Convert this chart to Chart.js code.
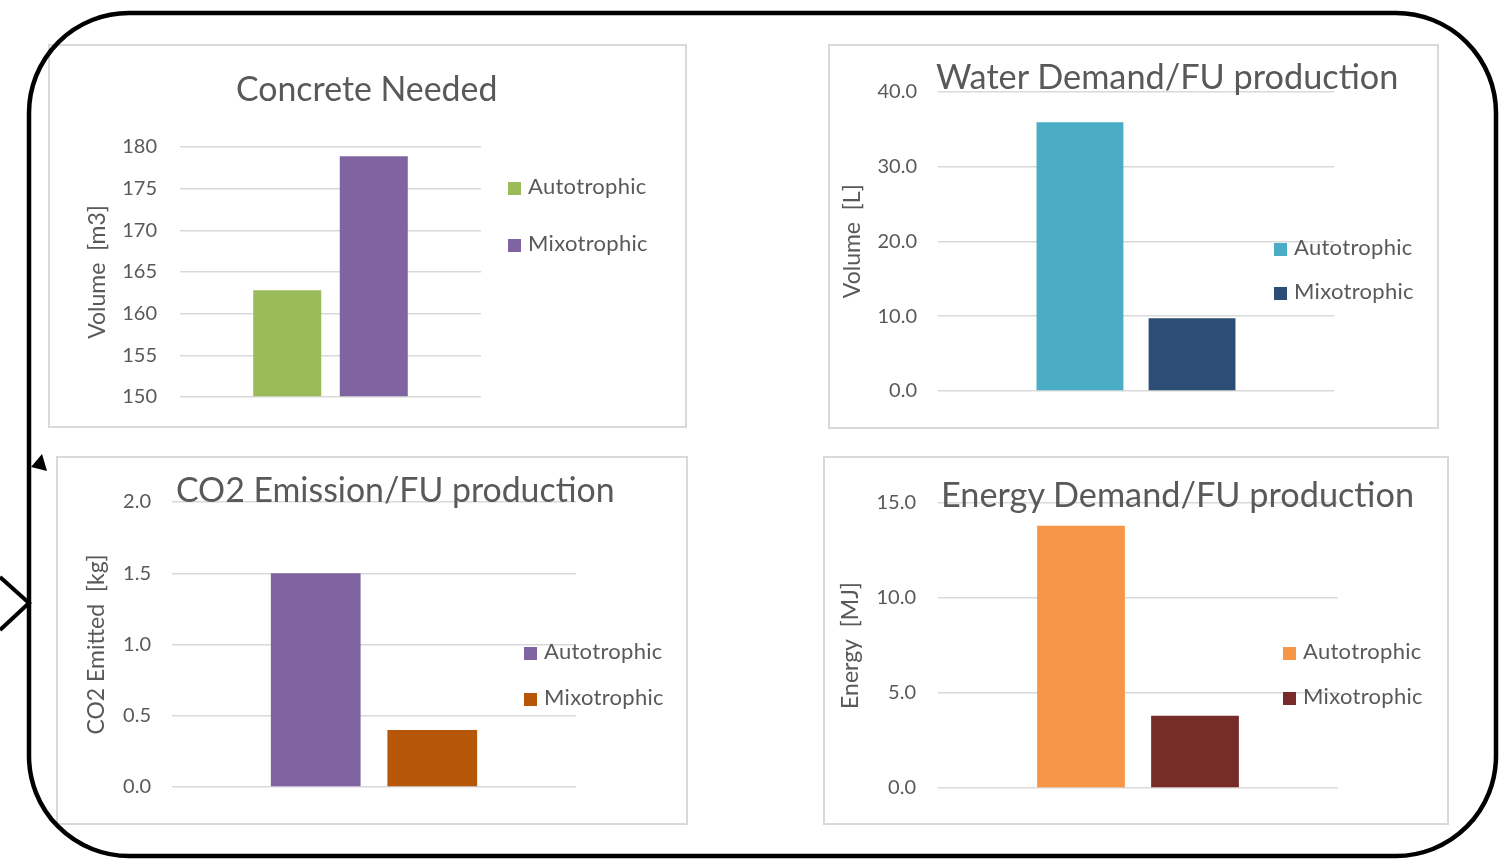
<!DOCTYPE html>
<html>
<head>
<meta charset="utf-8">
<script src="https://cdn.jsdelivr.net/npm/chart.js@4.4.0/dist/chart.umd.min.js"></script>
<style>
    body { margin: 0; width: 1500px; height: 866px; position: relative; overflow: hidden; background: #fff;
           font-family: Lato, 'Open Sans', sans-serif; }
    .panel { position: absolute; border: 2px solid #d9d9d9; box-sizing: border-box; background: #fff; }
    canvas { position: absolute; }
    .titulo { position: absolute; color: #595959; white-space: nowrap; line-height: 1; }
    .leyenda { position: absolute; color: #595959; font-size: 22px; letter-spacing: 0.3px; white-space: nowrap; line-height: 1; }
    .leyenda span { display: inline-block; width: 13px; height: 13px; margin-right: 7px; vertical-align: -1px; }
    svg { position: absolute; left: 0; top: 0; pointer-events: none; }
</style>
</head>
<body>
<svg width="1500" height="866">
    <rect x="29" y="13" width="1467" height="843" rx="100" ry="100" fill="none" stroke="#000" stroke-width="4.5"/>
    <polyline points="0,577 29,603 0,630" fill="none" stroke="#000" stroke-width="4"/>
    <polygon points="31,467 42,454 47,471" fill="#000"/>
</svg>

<script>
// Datos
const categorias = ['Autotrophic', 'Mixotrophic'];

const concretoValores = [162.8, 178.9];
const aguaValores = [35.9, 9.7];
const co2Valores = [1.5, 0.4];
const energiaValores = [13.8, 3.8];

const concretoTicks = [150, 155, 160, 165, 170, 175, 180];
const aguaTicks = [0, 10, 20, 30, 40];
const co2Ticks = [0, 0.5, 1, 1.5, 2];
const energiaTicks = [0, 5, 10, 15];

const fuente = "Lato, 'Open Sans', sans-serif";
const gris = '#595959';

// Configuracion de cada panel (posiciones y estilos)
const paneles = [
    {
        caja: { x: 48, y: 44, w: 639, h: 384 },
        plot: { l: 180, t: 147, r: 481, b: 397 },
        valores: concretoValores, ticks: concretoTicks, decimales: 0,
        colores: ['#9BBB59', '#8064A2'],
        titulo: 'Concrete Needed', tituloX: 236, tituloBase: 102, tituloAncho: 262,
        ejeY: 'Volume  [m3]', ejeYCentro: 98, tickPad: 23,
        leyX: 508, leyY: [186, 243],
        barPct: 0.786, catPct: 0.575
    },
    {
        caja: { x: 828, y: 44, w: 611, h: 385 },
        plot: { l: 938, t: 91.5, r: 1334, b: 391 },
        valores: aguaValores, ticks: aguaTicks, decimales: 1,
        colores: ['#4BACC6', '#2C4D75'],
        titulo: 'Water Demand/FU production', tituloX: 936, tituloBase: 89, tituloAncho: 463,
        ejeY: 'Volume  [L]', ejeYCentro: 853, tickPad: 21,
        leyX: 1274, leyY: [247, 291],
        barPct: 0.775, catPct: 0.566
    },
    {
        caja: { x: 56, y: 456, w: 632, h: 369 },
        plot: { l: 172, t: 502, r: 576, b: 787 },
        valores: co2Valores, ticks: co2Ticks, decimales: 1,
        colores: ['#8064A2', '#B65708'],
        titulo: 'CO2 Emission/FU production', tituloX: 176, tituloBase: 503, tituloAncho: 439,
        ejeY: 'CO2 Emitted  [kg]', ejeYCentro: 97, tickPad: 21,
        leyX: 524, leyY: [651, 697],
        barPct: 0.77, catPct: 0.577
    },
    {
        caja: { x: 823, y: 456, w: 626, h: 369 },
        plot: { l: 938, t: 503, r: 1338, b: 788 },
        valores: energiaValores, ticks: energiaTicks, decimales: 1,
        colores: ['#F79646', '#772C2A'],
        titulo: 'Energy Demand/FU production', tituloX: 941, tituloBase: 507, tituloAncho: 473,
        ejeY: 'Energy  [MJ]', ejeYCentro: 851, tickPad: 22,
        leyX: 1283, leyY: [651, 696],
        barPct: 0.77, catPct: 0.57
    }
];

function dibujarPanel(p) {
    const { caja, plot } = p;

    // Marco del panel
    const marco = document.createElement('div');
    marco.className = 'panel';
    Object.assign(marco.style, { left: caja.x + 'px', top: caja.y + 'px', width: caja.w + 'px', height: caja.h + 'px' });
    document.body.appendChild(marco);

    // Canvas
    const canvas = document.createElement('canvas');
    canvas.width = caja.w;
    canvas.height = caja.h;
    Object.assign(canvas.style, { left: caja.x + 'px', top: caja.y + 'px' });
    document.body.appendChild(canvas);

    const minY = p.ticks[0];
    const maxY = p.ticks[p.ticks.length - 1];
    const tamTitulo = 23;

    new Chart(canvas.getContext('2d'), {
        type: 'bar',
        data: {
            labels: [''],
            datasets: categorias.map((c, i) => ({
                label: c,
                data: [p.valores[i]],
                backgroundColor: p.colores[i],
                base: minY,
                barPercentage: p.barPct,
                categoryPercentage: p.catPct
            }))
        },
        options: {
            responsive: false,
            animation: false,
            layout: {
                padding: { left: 0, top: plot.t - caja.y, right: caja.x + caja.w - plot.r, bottom: caja.y + caja.h - plot.b }
            },
            plugins: { legend: { display: false }, tooltip: { enabled: false } },
            scales: {
                x: { display: false },
                y: {
                    min: minY,
                    max: maxY,
                    afterBuildTicks: s => { s.ticks = p.ticks.map(v => ({ value: v })); },
                    afterFit: s => {
                        // ancho fijo del eje y sin relleno extra arriba/abajo
                        s.width = plot.l - caja.x;
                        s.paddingTop = 0;
                        s.paddingBottom = 0;
                    },
                    grid: { color: '#d9d9d9', lineWidth: 1.5, drawTicks: false },
                    border: { display: false },
                    ticks: {
                        padding: p.tickPad,
                        color: gris,
                        font: { family: fuente, size: 20 },
                        callback: v => Number(v).toFixed(p.decimales)
                    },
                    title: {
                        display: true,
                        text: p.ejeY,
                        color: gris,
                        font: { family: fuente, size: tamTitulo },
                        padding: { top: p.ejeYCentro - caja.x - tamTitulo * 0.6, bottom: 0 }
                    }
                }
            }
        }
    });

    // Titulo (ajustado al ancho del original)
    const t = document.createElement('div');
    t.className = 'titulo';
    t.textContent = p.titulo;
    t.style.fontSize = '34px';
    document.body.appendChild(t);
    const tam = 34 * p.tituloAncho / t.offsetWidth;
    t.style.fontSize = tam + 'px';
    t.style.left = p.tituloX + 'px';
    t.style.top = (p.tituloBase - 0.887 * tam) + 'px';

    // Leyenda
    categorias.forEach((c, i) => {
        const l = document.createElement('div');
        l.className = 'leyenda';
        l.innerHTML = `<span style="background:${p.colores[i]}"></span>${c}`;
        l.style.left = p.leyX + 'px';
        l.style.top = (p.leyY[i] - 11) + 'px';
        document.body.appendChild(l);
    });
}

paneles.forEach(dibujarPanel);

// El marco redondeado va encima de todo
document.body.appendChild(document.querySelector('svg'));
</script>
</body>
</html>
